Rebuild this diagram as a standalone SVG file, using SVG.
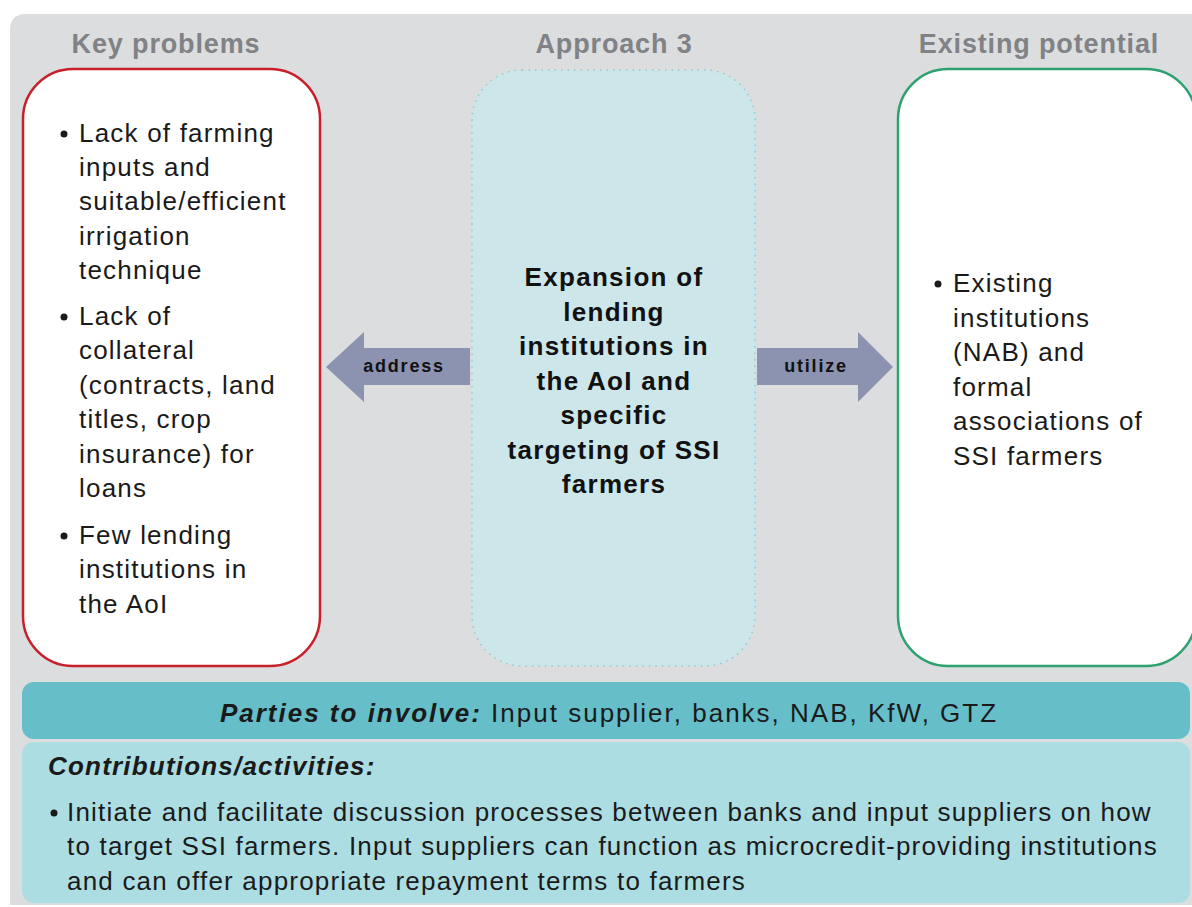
<svg xmlns="http://www.w3.org/2000/svg" width="1192" height="907" viewBox="0 0 1192 907">
  <style>
    .title { font-family: "Liberation Sans", Arial, sans-serif; font-weight: bold; font-size: 27px; letter-spacing: 0.85px; fill: #808285; text-anchor: middle; }
    .body { font-family: "Liberation Sans", Arial, sans-serif; font-size: 26px; letter-spacing: 1.2px; fill: #1a1a1a; }
    .center { font-family: "Liberation Sans", Arial, sans-serif; font-weight: bold; font-size: 26px; letter-spacing: 1.3px; fill: #111; text-anchor: middle; }
    .arrowlbl { font-family: "Liberation Sans", Arial, sans-serif; font-weight: bold; font-size: 18px; letter-spacing: 1.8px; fill: #111; text-anchor: middle; }
    .arrow { fill: #8c93b0; }
    .bi { font-weight: bold; font-style: italic; }
    .wide { letter-spacing: 2px; }
  </style>

  <rect width="1192" height="907" fill="#ffffff"/>
  <!-- panel background -->
  <path d="M10,30 Q10,14 26,14 L1192,14 L1192,905 L10,905 Z" fill="#dcdddf"/>

  <!-- column headings -->
  <text class="title" x="166" y="53">Key problems</text>
  <text class="title" x="614" y="53">Approach 3</text>
  <text class="title" x="1039" y="53">Existing potential</text>

  <g id="key-problems">
    <rect x="23" y="69" width="297" height="597" rx="50" ry="50" fill="#ffffff" stroke="#c8202a" stroke-width="2.5"/>
    <g class="body">
      <circle cx="64" cy="134" r="3.5" fill="#1a1a1a"/>
      <text x="79" y="142">Lack of farming</text>
      <text x="79" y="176">inputs and</text>
      <text x="79" y="210">suitable/efficient</text>
      <text x="79" y="245">irrigation</text>
      <text x="79" y="279">technique</text>
      <circle cx="64" cy="317" r="3.5" fill="#1a1a1a"/>
      <text x="79" y="325">Lack of</text>
      <text x="79" y="359">collateral</text>
      <text x="79" y="394">(contracts, land</text>
      <text x="79" y="428">titles, crop</text>
      <text x="79" y="463">insurance) for</text>
      <text x="79" y="497">loans</text>
      <circle cx="64" cy="536" r="3.5" fill="#1a1a1a"/>
      <text x="79" y="544">Few lending</text>
      <text x="79" y="578">institutions in</text>
      <text x="79" y="613">the AoI</text>
    </g>
  </g>

  <g id="approach">
    <rect x="472" y="70" width="283" height="596" rx="50" ry="50" fill="#cde6ea" stroke="#8fcbd3" stroke-width="1.5" stroke-dasharray="1.5 5"/>
    <g class="center">
      <text x="614" y="286">Expansion of</text>
      <text x="614" y="321">lending</text>
      <text x="614" y="355">institutions in</text>
      <text x="614" y="390">the AoI and</text>
      <text x="614" y="424">specific</text>
      <text x="614" y="459">targeting of SSI</text>
      <text x="614" y="493">farmers</text>
    </g>
  </g>

  <g id="existing-potential">
    <rect x="898" y="69" width="298" height="597" rx="50" ry="50" fill="#ffffff" stroke="#2fa06f" stroke-width="2.5"/>
    <g class="body">
      <circle cx="938" cy="284" r="3.5" fill="#1a1a1a"/>
      <text x="953" y="292">Existing</text>
      <text x="953" y="327">institutions</text>
      <text x="953" y="361">(NAB) and</text>
      <text x="953" y="396">formal</text>
      <text x="953" y="430">associations of</text>
      <text x="953" y="465">SSI farmers</text>
    </g>
  </g>

  <g id="connectors">
    <g id="address">
      <polygon class="arrow" points="470,348 364,348 364,332 326,367 364,402 364,385 470,385"/>
      <text class="arrowlbl" x="404" y="372">address</text>
    </g>
    <g id="utilize">
      <polygon class="arrow" points="757,348 858,348 858,332 893,367 858,402 858,385 757,385"/>
      <text class="arrowlbl" x="816" y="372">utilize</text>
    </g>
  </g>

  <g id="parties">
    <rect x="22" y="682" width="1168" height="57" rx="12" ry="12" fill="#65bec8"/>
    <text class="body wide" x="609" y="722" text-anchor="middle"><tspan class="bi">Parties to involve:</tspan> Input supplier, banks, NAB, KfW, GTZ</text>
  </g>

  <g id="contributions">
    <rect x="22" y="742" width="1168" height="161" rx="12" ry="12" fill="#acdde2"/>
    <text class="body bi" x="48" y="775">Contributions/activities:</text>
    <circle cx="54" cy="813" r="3.5" fill="#1a1a1a"/>
    <text class="body" x="67" y="821">Initiate and facilitate discussion processes between banks and input suppliers on how</text>
    <text class="body" x="67" y="855">to target SSI farmers. Input suppliers can function as microcredit-providing institutions</text>
    <text class="body" x="67" y="890">and can offer appropriate repayment terms to farmers</text>
  </g>
</svg>
